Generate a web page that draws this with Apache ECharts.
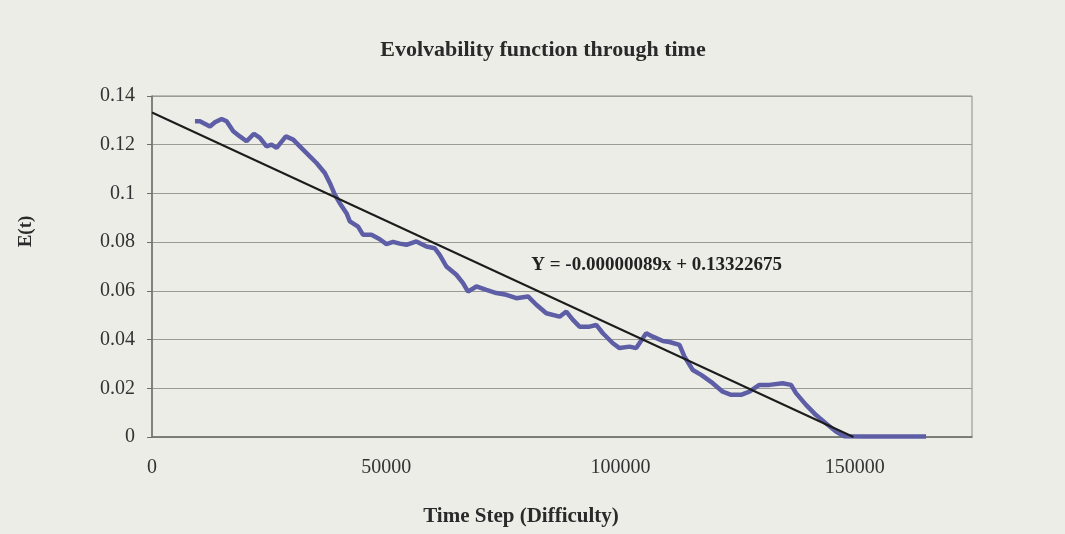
<!DOCTYPE html>
<html>
<head>
<meta charset="utf-8">
<title>Evolvability function through time</title>
<script src="https://cdn.jsdelivr.net/npm/echarts@6/dist/echarts.min.js"></script>
<style>
    html, body {
        margin: 0;
        padding: 0;
        background: #ecede6;
    }
    .echart_evo {
        width: 1065px;
        height: 534px;
    }
</style>
</head>
<body>
<div class="echart_evo"></div>
<script>
// time step (x) and E(t) (y)
var timeSteps = [9170, 10230, 12370, 13430, 14860, 15920, 17340, 18760, 20190, 21750,
    23030, 24450, 25520, 26590, 28570, 30130, 31550, 33690, 35110, 36880,
    37950, 39020, 40080, 41510, 42220, 43980, 45050, 46840, 48610, 50040,
    51450, 52870, 54300, 56430, 58570, 60340, 61400, 62830, 64960, 66380,
    67440, 69230, 71360, 73490, 75630, 77760, 80240, 82030, 84150, 86990,
    88420, 89830, 91250, 93380, 94810, 96220, 98350, 99780, 101910, 103340,
    105470, 106890, 109020, 110440, 112570, 113640, 115410, 117200, 119670, 121800,
    123590, 125720, 127490, 129620, 131760, 134590, 136380, 137440, 139580, 141710,
    143840, 145970, 147750, 152000, 157000, 162000, 165200];
var evolvability = [0.1296, 0.1296, 0.1275, 0.1292, 0.1306, 0.1296, 0.1255, 0.1234, 0.1214, 0.1245,
    0.1228, 0.1193, 0.1200, 0.1187, 0.1234, 0.1221, 0.1193, 0.1152, 0.1125, 0.1084,
    0.1043, 0.0995, 0.0960, 0.0919, 0.0885, 0.0864, 0.0830, 0.0830, 0.0812, 0.0792,
    0.0801, 0.0794, 0.0789, 0.0803, 0.0782, 0.0775, 0.0748, 0.0700, 0.0666, 0.0632,
    0.0597, 0.0618, 0.0604, 0.0591, 0.0584, 0.0570, 0.0577, 0.0543, 0.0508, 0.0494,
    0.0515, 0.0481, 0.0453, 0.0453, 0.0460, 0.0426, 0.0385, 0.0365, 0.0371, 0.0365,
    0.0426, 0.0412, 0.0394, 0.0390, 0.0378, 0.0330, 0.0275, 0.0255, 0.0221, 0.0186,
    0.0173, 0.0173, 0.0186, 0.0214, 0.0214, 0.0221, 0.0214, 0.0180, 0.0132, 0.0090,
    0.0056, 0.0022, 0.0003, 0.0002, 0.0002, 0.0002, 0.0002];

// linear trend shown on the figure: Y = -0.00000089x + 0.13322675
var trendSlope = -0.00000089;
var trendIntercept = 0.13322675;

var yTicks = [0, 0.14, 0.02];     // min, max, interval
var xTicks = [0, 175000, 50000];  // min, max, interval

var serif = "'Liberation Serif', 'Times New Roman', serif";

var myChart = echarts.init(document.querySelector('.echart_evo'));

var evoData = timeSteps.map(function(t, i) {
    return [t, evolvability[i]];
});
// trend line runs from x = 0 to where it reaches zero
var trendEnd = -trendIntercept / trendSlope;
var trendData = [[0, trendIntercept], [trendEnd, 0]];

var option = {
    backgroundColor: '#ecede6',
    animation: false,
    title: {
        text: 'Evolvability function through time',
        left: 538,
        top: 34,
        textAlign: 'center',
        textStyle: {
            fontFamily: serif,
            fontWeight: 'bold',
            fontSize: 22,
            color: '#2a2a2a'
        }
    },
    grid: {
        left: 152,
        right: 93,
        top: 96,
        bottom: 97,
        show: true,
        borderColor: '#8c8c88',
        borderWidth: 1
    },
    xAxis: {
        type: 'value',
        min: xTicks[0],
        max: xTicks[1],
        interval: xTicks[2],
        name: 'Time Step (Difficulty)',
        nameLocation: 'middle',
        nameGap: 69,
        nameTextStyle: {
            fontFamily: serif,
            fontWeight: 'bold',
            fontSize: 21,
            color: '#2a2a2a',
            padding: [0, 82, 0, 0]
        },
        axisLine: { lineStyle: { color: '#6e6e6a', width: 1.5 } },
        axisTick: { show: false },
        splitLine: { show: false },
        axisLabel: {
            showMaxLabel: false,
            margin: 21,
            fontFamily: serif,
            fontSize: 20,
            color: '#333',
            formatter: function(v) { return String(v); }
        }
    },
    yAxis: {
        type: 'value',
        min: yTicks[0],
        max: yTicks[1],
        interval: yTicks[2],
        name: 'E(t)',
        nameLocation: 'middle',
        nameGap: 116,
        nameRotate: 90,
        nameTextStyle: {
            fontFamily: serif,
            fontWeight: 'bold',
            fontSize: 19,
            color: '#2a2a2a',
            padding: [0, 0, 0, 70]
        },
        axisLine: { show: true, lineStyle: { color: '#6e6e6a', width: 1.5 } },
        axisTick: { show: true, inside: false, length: 5, lineStyle: { color: '#6e6e6a' } },
        splitLine: { lineStyle: { color: '#9a9a96', width: 1 } },
        axisLabel: {
            margin: 17,
            fontFamily: serif,
            fontSize: 20,
            color: '#333'
        }
    },
    series: [{
            name: 'E(t)',
            type: 'line',
            data: evoData,
            smooth: false,
            showSymbol: false,
            lineStyle: {
                color: '#5e5ea6',
                width: 4.5
            },
            z: 2
        },
        {
            name: 'trend',
            type: 'line',
            data: trendData,
            showSymbol: false,
            lineStyle: {
                color: '#1c1c1c',
                width: 2
            },
            // equation label sits in data space near the middle of the plot
            markPoint: {
                symbol: 'circle',
                symbolSize: 0,
                label: {
                    show: true,
                    position: 'inside',
                    formatter: 'Y = -0.00000089x + 0.13322675',
                    fontFamily: serif,
                    fontWeight: 'bold',
                    fontSize: 19,
                    color: '#222'
                },
                data: [{ coord: [107700, 0.0707] }]
            },
            z: 3
        }
    ]
};

myChart.setOption(option);
window.onresize = function() {
    myChart.resize();
};
</script>
</body>
</html>
